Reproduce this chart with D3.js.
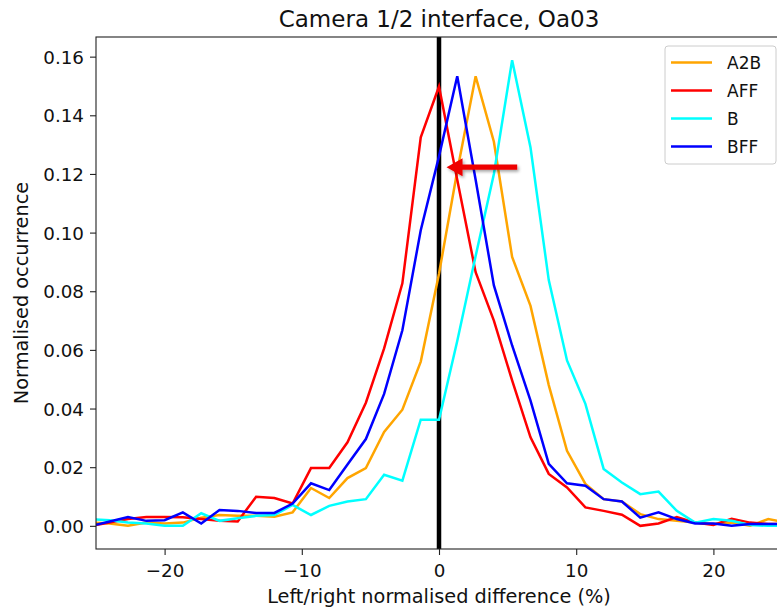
<!DOCTYPE html>
<html>
<head>
<meta charset="utf-8">
<script src="https://cdn.jsdelivr.net/npm/d3@7"></script>
<style>
  html, body { margin: 0; padding: 0; background: #fff; }
  svg { display: block; font-family: "DejaVu Sans", sans-serif; }
</style>
</head>
<body>
<svg id="chart" width="777" height="608"></svg>
<script>
// ---- data ----
const xValues = [-25.33, -24.0, -22.67, -21.33, -20.0, -18.67, -17.33, -16.0, -14.67, -13.33,
  -12.0, -10.67, -9.33, -8.0, -6.67, -5.33, -4.0, -2.67, -1.33, 0.0,
  1.33, 2.67, 4.0, 5.33, 6.67, 8.0, 9.33, 10.67, 12.0, 13.33,
  14.67, 16.0, 17.33, 18.67, 20.0, 21.33, 22.67, 24.0, 25.33];

const seriesNames = ["A2B", "AFF", "B", "BFF"];
const seriesColors = ["#FFA500", "#FF0000", "#00FFFF", "#0000FF"];

const a2b = [0.0011, 0.0008, 0.0000, 0.0011, 0.0008, 0.0011, 0.0028, 0.0037, 0.0034, 0.0034,
  0.0031, 0.0046, 0.0129, 0.0095, 0.0163, 0.0197, 0.0320, 0.0396, 0.0560, 0.0860,
  0.1210, 0.1533, 0.1310, 0.0917, 0.0750, 0.0480, 0.0256, 0.0143, 0.0091, 0.0083,
  0.0040, 0.0023, 0.0017, 0.0011, 0.0006, 0.0011, 0.0000, 0.0023, 0.0011];

const aff = [0.0000, 0.0011, 0.0023, 0.0030, 0.0030, 0.0029, 0.0023, 0.0017, 0.0015, 0.0099,
  0.0095, 0.0076, 0.0197, 0.0197, 0.0285, 0.0420, 0.0605, 0.0827, 0.1325, 0.1498,
  0.1180, 0.0865, 0.0700, 0.0496, 0.0302, 0.0177, 0.0131, 0.0063, 0.0051, 0.0038,
  0.0000, 0.0008, 0.0030, 0.0011, 0.0003, 0.0024, 0.0011, 0.0006, 0.0006];

const b = [0.0023, 0.0019, 0.0011, 0.0008, 0.0000, 0.0000, 0.0043, 0.0017, 0.0026, 0.0034,
  0.0037, 0.0071, 0.0037, 0.0068, 0.0083, 0.0091, 0.0174, 0.0154, 0.0362, 0.0362,
  0.0630, 0.0920, 0.1200, 0.1588, 0.1290, 0.0838, 0.0564, 0.0416, 0.0194, 0.0148,
  0.0108, 0.0117, 0.0051, 0.0011, 0.0023, 0.0017, 0.0003, 0.0000, 0.0000];

const bff = [0.0000, 0.0015, 0.0030, 0.0017, 0.0019, 0.0046, 0.0008, 0.0054, 0.0051, 0.0044,
  0.0044, 0.0076, 0.0145, 0.0122, 0.0209, 0.0296, 0.0450, 0.0667, 0.1008, 0.1260,
  0.1533, 0.1180, 0.0820, 0.0615, 0.0427, 0.0211, 0.0145, 0.0137, 0.0091, 0.0083,
  0.0028, 0.0046, 0.0023, 0.0008, 0.0008, 0.0000, 0.0006, 0.0006, 0.0006];

const xTicks = [-20, -10, 0, 10, 20];
const yTicks = [0.00, 0.02, 0.04, 0.06, 0.08, 0.10, 0.12, 0.14, 0.16];
const xDomain = [-25, 25];
const yDomain = [-0.0079, 0.1667];
const vlineX = 0;
const arrowFrom = [5.7, 0.1223];
const arrowTo = [0.55, 0.1223];

const titleText = "Camera 1/2 interface, Oa03";
const xLabelText = "Left/right normalised difference (%)";
const yLabelText = "Normalised occurrence";

// ---- layout ----
const svg = d3.select("#chart");
const plot = { left: 96, top: 37, right: 782, bottom: 549 };

const x = d3.scaleLinear().domain(xDomain).range([plot.left, plot.right]);
const y = d3.scaleLinear().domain(yDomain).range([plot.bottom, plot.top]);

const defs = svg.append("defs");
defs.append("clipPath").attr("id", "clip")
  .append("rect")
  .attr("x", plot.left).attr("y", plot.top)
  .attr("width", plot.right - plot.left).attr("height", plot.bottom - plot.top);

const shadow = defs.append("filter").attr("id", "shadow")
  .attr("x", "-20%").attr("y", "-50%").attr("width", "140%").attr("height", "200%");
shadow.append("feDropShadow").attr("dx", 1.5).attr("dy", 2).attr("stdDeviation", 1.5)
  .attr("flood-color", "#000").attr("flood-opacity", 0.35);

// background
svg.append("rect").attr("width", 777).attr("height", 608).attr("fill", "#fff");

const g = svg.append("g").attr("clip-path", "url(#clip)");

// vertical line at 0
g.append("line")
  .attr("x1", x(vlineX)).attr("x2", x(vlineX))
  .attr("y1", plot.top).attr("y2", plot.bottom)
  .attr("stroke", "#000").attr("stroke-width", 4.5);

// series
const seriesData = [a2b, aff, b, bff];
const line = d3.line().x(d => x(d[0])).y(d => y(d[1]));
seriesData.forEach((vals, i) => {
  g.append("path")
    .datum(xValues.map((xv, j) => [xv, vals[j]]))
    .attr("d", line)
    .attr("fill", "none")
    .attr("stroke", seriesColors[i])
    .attr("stroke-width", 2.5)
    .attr("stroke-linejoin", "miter");
});

// arrow
const ax0 = x(arrowFrom[0]), ax1 = x(arrowTo[0]), ay = y(arrowFrom[1]);
const headLen = 16, headHalf = 9, shaftHalf = 2.6;
const arrowPts = [
  [ax0, ay - shaftHalf], [ax1 + headLen, ay - shaftHalf], [ax1 + headLen, ay - headHalf],
  [ax1, ay], [ax1 + headLen, ay + headHalf], [ax1 + headLen, ay + shaftHalf], [ax0, ay + shaftHalf]
];
svg.append("path")
  .attr("d", "M" + arrowPts.map(p => p.join(",")).join("L") + "Z")
  .attr("fill", "#EE0000")
  .attr("filter", "url(#shadow)");

// axes
const xAxis = d3.axisBottom(x).tickValues(xTicks).tickSize(6).tickPadding(5)
  .tickFormat(d => d3.format("d")(d).replace("-", "\u2212"));
const yAxis = d3.axisLeft(y).tickValues(yTicks).tickSize(6).tickPadding(6)
  .tickFormat(d3.format(".2f"));

const gx = svg.append("g").attr("transform", `translate(0,${plot.bottom})`).call(xAxis);
const gy = svg.append("g").attr("transform", `translate(${plot.left},0)`).call(yAxis);
[gx, gy].forEach(a => {
  a.select(".domain").remove();
  a.selectAll("line").attr("stroke", "#222").attr("stroke-width", 1.1);
  a.selectAll("text").attr("fill", "#111").style("font-size", "18.3px")
    .style("font-family", "'DejaVu Sans', sans-serif");
});
gx.selectAll("text").attr("dy", "0.95em");
gy.selectAll("text").attr("dy", "0.36em");

// frame (top, left, bottom; right edge lies outside the view)
svg.append("rect")
  .attr("x", plot.left).attr("y", plot.top)
  .attr("width", plot.right - plot.left).attr("height", plot.bottom - plot.top)
  .attr("fill", "none").attr("stroke", "#222").attr("stroke-width", 1.1);

// title and labels
svg.append("text").attr("x", (plot.left + plot.right) / 2).attr("y", 27)
  .attr("text-anchor", "middle").style("font-size", "23px").attr("fill", "#111")
  .text(titleText);
svg.append("text").attr("x", (plot.left + plot.right) / 2).attr("y", 603)
  .attr("text-anchor", "middle").style("font-size", "19.3px").attr("fill", "#111")
  .text(xLabelText);
svg.append("text")
  .attr("transform", `translate(28,${(plot.top + plot.bottom) / 2}) rotate(-90)`)
  .attr("text-anchor", "middle").style("font-size", "19.3px").attr("fill", "#111")
  .text(yLabelText);

// legend
const leg = svg.append("g");
leg.append("rect")
  .attr("x", 665).attr("y", 46).attr("width", 111).attr("height", 118)
  .attr("rx", 3).attr("fill", "#fff").attr("fill-opacity", 0.8)
  .attr("stroke", "#ccc").attr("stroke-width", 1);
seriesNames.forEach((name, i) => {
  const yy = 62.5 + i * 28;
  leg.append("line").attr("x1", 671).attr("x2", 712).attr("y1", yy).attr("y2", yy)
    .attr("stroke", seriesColors[i]).attr("stroke-width", 2.5);
  leg.append("text").attr("x", 727).attr("y", yy).attr("dy", "0.36em")
    .style("font-size", "17px").attr("fill", "#111").text(name);
});
</script>
</body>
</html>
